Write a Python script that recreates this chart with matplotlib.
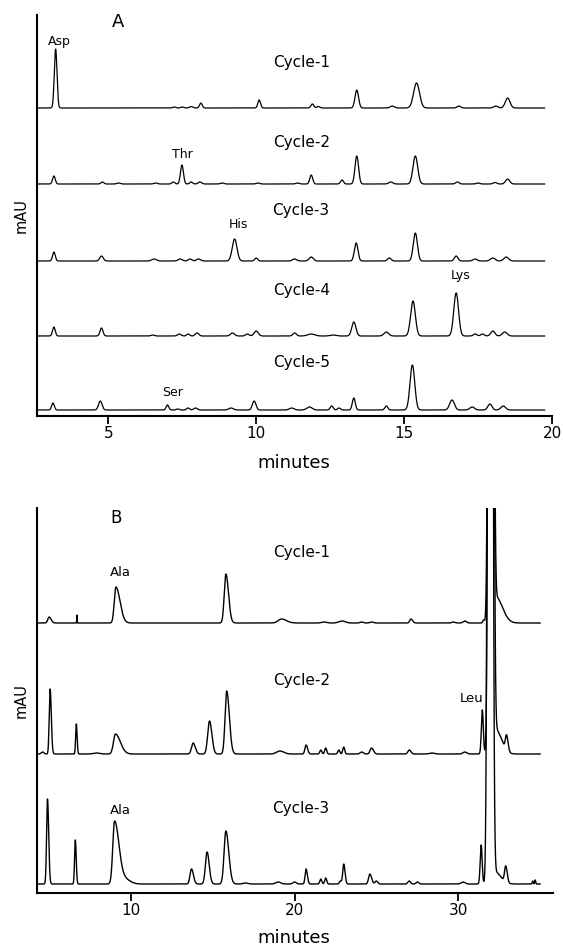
import numpy as np
import matplotlib.pyplot as plt

plt.rcParams['font.family'] = ['DejaVu Sans']

# --- # Panel A peaks: (retention time in min, height, sigma)
a_cycle1 = [(3.22, 59, 0.045), (7.23, 1, 0.05), (7.5, 1, 0.05), (7.8, 1.5, 0.06),
            (8.13, 5, 0.045), (10.1, 8, 0.045), (11.9, 4, 0.05), (12.1, 1.5, 0.05),
            (13.4, 18, 0.06), (14.6, 2, 0.07), (15.42, 25, 0.1), (16.85, 2, 0.06),
            (18.1, 2, 0.07), (18.5, 10, 0.08)]
a_cycle2 = [(3.16, 8, 0.045), (4.8, 2, 0.05), (5.35, 1, 0.06), (6.6, 1, 0.06),
            (7.2, 2, 0.05), (7.49, 19, 0.05), (7.8, 2, 0.05), (8.1, 2, 0.06),
            (8.85, 1, 0.06), (10.06, 1, 0.06), (11.4, 1, 0.06), (11.86, 9, 0.05),
            (12.9, 4, 0.05), (13.4, 28, 0.06), (14.55, 2, 0.07), (15.38, 28, 0.08),
            (16.8, 2, 0.06), (17.5, 1, 0.06), (18.07, 1.5, 0.06), (18.5, 5, 0.07)]
a_cycle3 = [(3.16, 9, 0.045), (4.77, 5, 0.06), (6.55, 2, 0.08), (7.43, 2, 0.07),
            (7.76, 2, 0.06), (8.05, 2, 0.07), (9.27, 22, 0.08), (10.0, 3, 0.05),
            (11.3, 2, 0.07), (11.86, 4, 0.07), (13.38, 18, 0.06), (14.5, 3, 0.06),
            (15.38, 28, 0.07), (16.76, 5, 0.06), (17.4, 2, 0.07), (18.0, 3, 0.08),
            (18.45, 4, 0.08)]
a_cycle4 = [(3.16, 9, 0.045), (4.77, 8, 0.05), (6.5, 1, 0.06), (7.4, 2, 0.06),
            (7.7, 2, 0.05), (8.0, 3, 0.06), (9.2, 3, 0.07), (9.7, 2, 0.06),
            (10.0, 5, 0.07), (11.3, 3, 0.06), (11.86, 2, 0.12), (12.6, 1, 0.1),
            (13.3, 14, 0.07), (14.4, 4, 0.08), (15.3, 35, 0.08), (16.76, 43, 0.08),
            (17.4, 2, 0.06), (17.65, 2, 0.06), (18.0, 5, 0.07), (18.4, 4, 0.08)]
a_cycle5 = [(3.13, 7, 0.045), (4.73, 9, 0.06), (7.0, 5, 0.045), (7.35, 1, 0.05),
            (7.7, 2, 0.05), (7.95, 2, 0.06), (9.15, 2, 0.08), (9.93, 9, 0.06),
            (11.2, 2, 0.08), (11.8, 3, 0.09), (12.55, 4, 0.05), (12.8, 2, 0.05),
            (13.3, 12, 0.05), (14.4, 4, 0.05), (15.28, 45, 0.08), (16.62, 10, 0.08),
            (17.3, 3, 0.08), (17.9, 6, 0.07), (18.35, 4, 0.08)]
a_traces = [a_cycle1, a_cycle2, a_cycle3, a_cycle4, a_cycle5]
a_offsets = [308, 232, 155, 80, 6]
a_names = ['Cycle-1', 'Cycle-2', 'Cycle-3', 'Cycle-4', 'Cycle-5']

# --- # Panel B peaks: (retention time, height, sigma, tailing factor)
b_cycle1 = [(5.0, 6, 0.08, 1.5), (6.7, 8, 0.012, 1.0), (9.08, 36, 0.1, 2.5),
            (15.8, 49, 0.1, 1.6), (19.2, 4, 0.2, 1.5), (21.8, 1, 0.15, 1.0),
            (22.9, 2, 0.2, 1.0), (24.1, 1, 0.1, 1.0), (24.7, 1, 0.1, 1.0),
            (27.1, 4, 0.07, 1.5), (29.7, 1, 0.1, 1.0), (30.4, 2, 0.1, 1.0),
            (31.55, 3, 0.05, 1.0), (32.0, 3000, 0.1, 1.0), (32.3, 26, 0.05, 8.0)]
b_cycle2 = [(4.6, 2, 0.08, 1.0), (5.06, 65, 0.055, 1.3), (6.66, 30, 0.04, 1.2),
            (7.9, 1, 0.2, 1.0), (9.05, 20, 0.12, 2.5), (13.8, 11, 0.1, 1.3),
            (14.8, 33, 0.11, 1.3), (15.85, 63, 0.1, 1.6), (19.1, 3, 0.2, 1.2),
            (20.7, 9, 0.07, 1.3), (21.6, 4, 0.06, 1.0), (21.9, 6, 0.06, 1.0),
            (22.7, 4, 0.06, 1.0), (23.0, 7, 0.06, 1.0), (24.1, 2, 0.1, 1.0),
            (24.7, 6, 0.09, 1.3), (27.0, 4, 0.08, 1.3), (28.4, 1, 0.15, 1.0),
            (30.4, 2, 0.12, 1.0), (31.47, 44, 0.06, 1.0), (32.0, 3000, 0.1, 1.0),
            (32.3, 24, 0.05, 7.0), (32.95, 15, 0.07, 1.3)]
b_cycle3 = [(4.9, 85, 0.055, 1.3), (6.6, 44, 0.045, 1.2), (9.0, 63, 0.11, 2.5),
            (9.7, 4, 0.2, 1.5), (13.7, 15, 0.09, 1.3), (14.65, 32, 0.1, 1.3),
            (15.8, 53, 0.11, 1.6), (17.0, 1, 0.15, 1.0), (19.0, 2, 0.15, 1.0),
            (20.0, 2, 0.1, 1.0), (20.7, 15, 0.06, 1.3), (21.6, 5, 0.06, 1.0),
            (21.9, 6, 0.06, 1.0), (22.8, 3, 0.06, 1.0), (23.0, 20, 0.06, 1.3),
            (24.6, 10, 0.08, 1.3), (25.0, 3, 0.08, 1.0), (27.0, 3, 0.08, 1.0),
            (27.5, 2, 0.08, 1.0), (30.3, 2, 0.12, 1.0), (31.4, 39, 0.06, 1.0),
            (31.95, 3000, 0.1, 1.0), (32.25, 12, 0.05, 7.0), (32.9, 16, 0.07, 1.3),
            (34.55, 3, 0.03, 1.0), (34.7, 4, 0.03, 1.0)]
b_traces = [b_cycle1, b_cycle2, b_cycle3]
b_offsets = [270, 139, 9]
b_names = ['Cycle-1', 'Cycle-2', 'Cycle-3']


def trace(x, peaks):
    y = np.zeros_like(x)
    for p in peaks:
        rt, h, s = p[0], p[1], p[2]
        tail = p[3] if len(p) > 3 else 1.0
        sig = np.where(x < rt, s, s * tail)
        y += h * np.exp(-0.5 * ((x - rt) / sig) ** 2)
    return y


def style_axes(ax):
    for side in ['top', 'right']:
        ax.spines[side].set_visible(False)
    ax.spines['left'].set_linewidth(1.5)
    ax.spines['bottom'].set_linewidth(1.5)
    ax.set_yticks([])
    ax.tick_params(axis='x', direction='out', length=5.5, width=1.3, labelsize=11, pad=2)


fig = plt.figure(figsize=(5.63, 9.51), dpi=100)

# --- # Panel A
axA = fig.add_axes([37.3 / 563, 1 - 416 / 951, (552 - 37.3) / 563, 401 / 951])
xa = np.linspace(2.6, 19.75, 4000)
for peaks, off in zip(a_traces, a_offsets):
    axA.plot(xa, trace(xa, peaks) + off, color='black', lw=0.9)
axA.set_xlim(2.6, 20)
axA.set_ylim(0, 401)
axA.set_xticks([5, 10, 15, 20])
style_axes(axA)

axA.text(5.34, 394, 'A', fontsize=13, ha='center', va='center')
for name, ty in zip(a_names, [353, 274, 206, 125, 53]):
    axA.text(11.52, ty, name, fontsize=11, ha='center', va='center')
axA.text(3.34, 375, 'Asp', fontsize=9, ha='center', va='center')
axA.text(7.49, 262, 'Thr', fontsize=9, ha='center', va='center')
axA.text(9.41, 191, 'His', fontsize=9, ha='center', va='center')
axA.text(16.9, 140, 'Lys', fontsize=9, ha='center', va='center')
axA.text(7.16, 23, 'Ser', fontsize=9, ha='center', va='center')
fig.text(294 / 563, 1 - 463 / 951, 'minutes', fontsize=13, ha='center', va='center')
fig.text(21 / 563, 1 - 216 / 951, 'mAU', fontsize=10.5, ha='center', va='center', rotation=90)

# --- # Panel B
axB = fig.add_axes([36.7 / 563, 1 - 893 / 951, (552.7 - 36.7) / 563, 385 / 951])
xb = np.linspace(4.24, 35.0, 6000)
for peaks, off in zip(b_traces, b_offsets):
    axB.plot(xb, trace(xb, peaks) + off, color='black', lw=1.0)
axB.set_xlim(4.24, 35.77)
axB.set_ylim(0, 385)
axB.set_xticks([10, 20, 30])
style_axes(axB)

axB.text(9.1, 375, 'B', fontsize=12, ha='center', va='center')
for name, ty in zip(b_names, [341, 213, 85]):
    axB.text(20.4, ty, name, fontsize=11, ha='center', va='center')
axB.text(9.36, 321, 'Ala', fontsize=9.5, ha='center', va='center')
axB.text(9.36, 83, 'Ala', fontsize=9.5, ha='center', va='center')
axB.text(30.8, 195, 'Leu', fontsize=9.5, ha='center', va='center')
fig.text(294 / 563, 1 - 938 / 951, 'minutes', fontsize=13, ha='center', va='center')
fig.text(21 / 563, 1 - 701 / 951, 'mAU', fontsize=10.5, ha='center', va='center', rotation=90)

fig.savefig('out.png', dpi=100)
